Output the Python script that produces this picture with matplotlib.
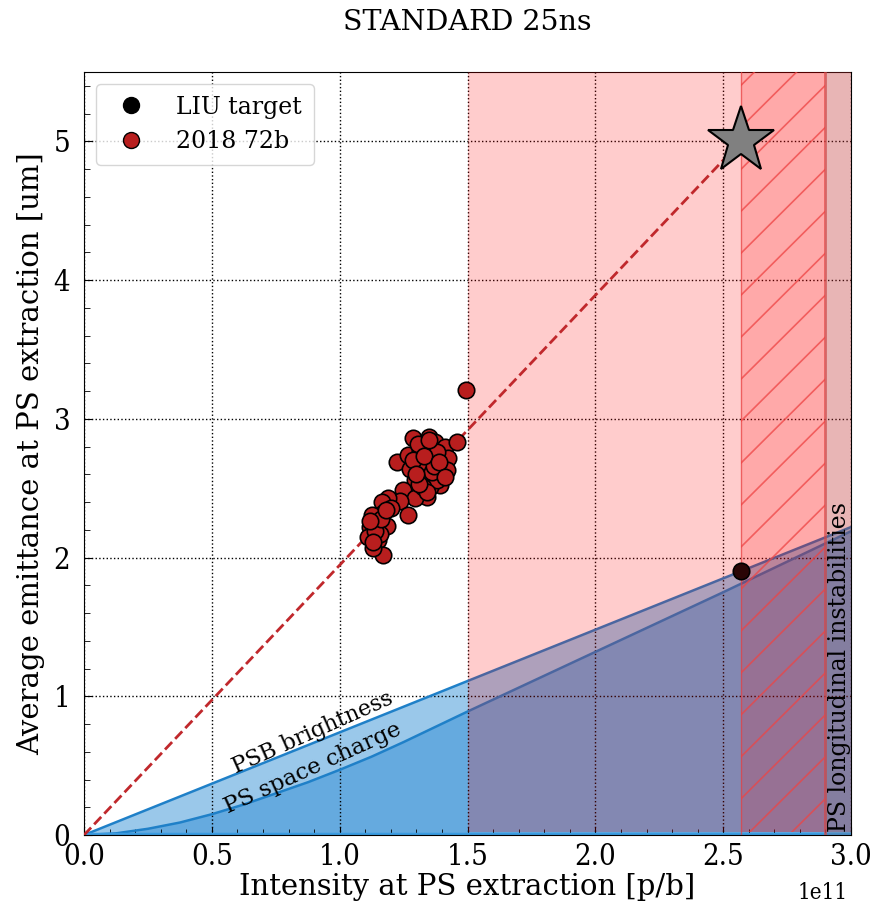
import numpy as np
import matplotlib
matplotlib.use("Agg")
import matplotlib.pyplot as plt
from matplotlib.lines import Line2D

plt.rcParams['font.family'] = ['DejaVu Serif']

SCALE = 1e11

# Measured 2018 72b beam (intensity in 1e11 p/b, emittance in um)
meas_x = [1.494, 1.287, 1.349, 1.373, 1.412, 1.459, 1.224, 1.267, 1.314, 1.353,
          1.404, 1.275, 1.322, 1.392, 1.424, 1.341, 1.294, 1.392, 1.353, 1.302,
          1.248, 1.341, 1.294, 1.236, 1.189, 1.165, 1.267, 1.169, 1.126, 1.185,
          1.146, 1.118, 1.111, 1.150, 1.169, 1.130, 1.158, 1.380, 1.404, 1.420,
          1.326, 1.287, 1.353, 1.380, 1.306, 1.340, 1.360, 1.310, 1.200, 1.140,
          1.160, 1.370, 1.330, 1.390, 1.130, 1.180, 1.410, 1.300, 1.350, 1.120]
meas_y = [3.21, 2.86, 2.87, 2.83, 2.80, 2.83, 2.69, 2.74, 2.77, 2.70,
          2.67, 2.64, 2.64, 2.72, 2.72, 2.58, 2.56, 2.52, 2.51, 2.49,
          2.49, 2.44, 2.43, 2.41, 2.43, 2.40, 2.31, 2.32, 2.31, 2.23,
          2.25, 2.22, 2.15, 2.13, 2.02, 2.07, 2.17, 2.56, 2.61, 2.63,
          2.51, 2.70, 2.80, 2.76, 2.82, 2.47, 2.62, 2.53, 2.36, 2.19,
          2.28, 2.66, 2.73, 2.69, 2.11, 2.34, 2.58, 2.60, 2.85, 2.26]

# LIU target
liu_x = [2.57]
liu_y = [1.90]
star_x = [2.57]
star_y = [5.00]

# Limits
lim_x = [0.0, 0.125, 0.25, 0.375, 0.5, 0.625, 0.75, 0.875, 1.0, 1.125, 1.25,
         1.375, 1.5, 2.0, 2.5, 3.0]
psb_brightness = [0.0, 0.0925, 0.185, 0.2775, 0.37, 0.4625, 0.555, 0.6475, 0.74,
                  0.8325, 0.925, 1.0175, 1.11, 1.48, 1.85, 2.22]
ps_space_charge = [0.0, 0.012, 0.045, 0.09, 0.15, 0.22, 0.30, 0.38, 0.47, 0.565,
                   0.67, 0.78, 0.89, 1.32, 1.75, 2.19]

# Regions (1e11 p/b)
region_start = 1.5
hatch_start = 2.57
hatch_end = 2.9
x_max = 3.0

fig = plt.figure(figsize=(8.77, 9.16), dpi=100)
ax = fig.add_axes([0.0958, 0.0884, 0.8746, 0.8330])

BLUE = '#2a8ad4'
lx = np.array(lim_x) * SCALE
ax.fill_between(lx, 0, psb_brightness, color=BLUE, alpha=0.47, lw=0, zorder=1)
ax.fill_between(lx, 0, ps_space_charge, color=BLUE, alpha=0.47, lw=0, zorder=1)
ax.plot(lx, psb_brightness, color='#1f80c8', lw=1.8, zorder=2)
ax.plot(lx, ps_space_charge, color='#1f80c8', lw=1.8, zorder=2)
ax.axhline(0.005, color='#3a9be0', lw=2.5, zorder=2)

# Red regions
ax.axvspan(region_start * SCALE, x_max * SCALE, ymin=0.004, color='red', alpha=0.2, lw=0, zorder=3)
hspan = ax.axvspan(hatch_start * SCALE, hatch_end * SCALE, ymin=0.004, facecolor='red',
                   alpha=0.17, lw=0, zorder=3)
ax.axvline(hatch_start * SCALE, color='#e84040', lw=1.0, alpha=0.7, zorder=3)
ax.axvline(hatch_end * SCALE, color='#e04040', lw=2.0, alpha=0.7, zorder=3)
ax.axvspan(hatch_end * SCALE, x_max * SCALE, color='#8c5959', alpha=0.2, lw=0, zorder=3)

# Hatch lines for the longitudinal instability region
for c in np.arange(-2.0, 1.0, 0.055):
    off = c - 0.789 + 0.055 * 15
    ln, = ax.plot([0, 1], [off, off + 1], transform=ax.transAxes, color='#ee4444',
                  lw=1.2, alpha=0.75, zorder=3)
    ln.set_clip_path(hspan)

ax.set_xlim(0, x_max * SCALE)
ax.set_ylim(0, 5.5)

# Dashed scaling line
ax.plot([0, star_x[0] * SCALE], [0, star_y[0]], ls='--', color='#c0282c', lw=2, zorder=4)

ax.scatter(np.array(meas_x) * SCALE, meas_y, s=140, color='#b81e1e', edgecolor='black',
           linewidth=1.2, zorder=5)
ax.scatter(np.array(liu_x) * SCALE, liu_y, s=140, color='#2a0505', edgecolor='black',
           linewidth=1.2, zorder=5)
ax.plot(np.array(star_x) * SCALE, star_y, marker='*', ms=50, color='#808080',
        markeredgecolor='black', markeredgewidth=1.5, zorder=6)

ax.set_xticks(np.arange(0, 3.01, 0.5) * SCALE)
ax.set_yticks(np.arange(0, 6, 1))
ax.set_xticks(np.arange(0, 3.01, 0.1) * SCALE, minor=True)
ax.set_yticks(np.arange(0, 5.5, 0.2), minor=True)
ax.tick_params(which='both', direction='in', labelsize=21)
ax.tick_params(axis='x', which='major', pad=6)
ax.tick_params(axis='y', which='major', pad=10)
ax.tick_params(which='major', length=6)
ax.tick_params(which='minor', length=4)
for lab in ax.get_xticklabels() + ax.get_yticklabels():
    lab.set_fontstretch('condensed')
ax.xaxis.get_offset_text().set_visible(False)
ax.text(0.996, -0.076, '1e11', transform=ax.transAxes, ha='right', va='center',
        fontsize=16, fontstretch='condensed')
ax.grid(True, which='major', ls=':', color='black', lw=1.0)

ax.set_xlabel('Intensity at PS extraction [p/b]', fontsize=21, labelpad=1)
ax.set_ylabel('Average emittance at PS extraction [um]', fontsize=21, labelpad=6)
ax.set_title('STANDARD 25ns', fontsize=20.5, pad=30)

ax.text(0.896 * SCALE, 0.735, 'PSB brightness', fontsize=16, rotation=24,
        ha='center', va='center', rotation_mode='anchor', zorder=7)
ax.text(0.896 * SCALE, 0.48, 'PS space charge', fontsize=16.5, rotation=24.5,
        ha='center', va='center', rotation_mode='anchor', zorder=7)
ax.text(2.955 * SCALE, 0.02, 'PS longitudinal instabilities', fontsize=17, rotation=90,
        ha='center', va='bottom', zorder=7)

handles = [Line2D([], [], ls='', marker='o', ms=11.5, color='black', markeredgecolor='black'),
           Line2D([], [], ls='', marker='o', ms=11.5, color='#b81e1e', markeredgecolor='black')]
ax.legend(handles, ['LIU target', '2018 72b'], loc='upper left', fontsize=17,
          borderaxespad=0.5, handletextpad=0.9, borderpad=0.5)

fig.savefig('out.png', dpi=100)
